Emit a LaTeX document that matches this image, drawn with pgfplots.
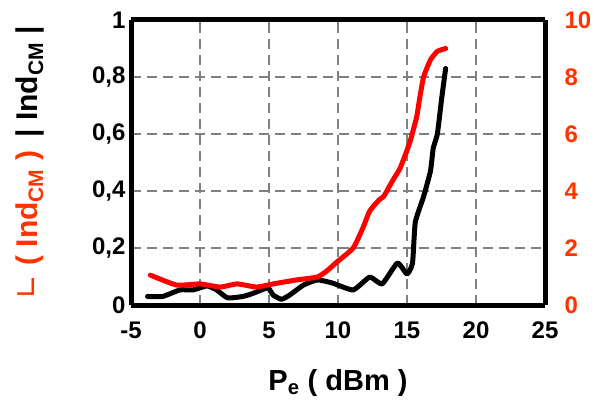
\documentclass[border=0pt]{standalone}
\usepackage{fontspec}
\setmainfont{Liberation Sans}
\newfontfamily\djv{DejaVu Sans}
\usepackage{pgfplots}
\pgfplotsset{compat=1.18}
\definecolor{labred}{RGB}{255,51,0}
\definecolor{gridgray}{RGB}{128,128,128}
\begin{document}
\begin{tikzpicture}
\useasboundingbox (0,0) rectangle (596pt,399pt);
\begin{axis}[
  at={(131pt,94pt)}, anchor=south west,
  scale only axis, width=414pt, height=285pt,
  xmin=-5, xmax=25, ymin=0, ymax=1,
  axis y line*=left,
  axis line style={line width=5pt, black},
  xtick={-5,0,...,25}, ytick={0,0.2,...,1},
  xmajorgrids, ymajorgrids,
  grid style={gridgray, line width=2.5pt, dash pattern=on 10pt off 6pt},
  tick style={gridgray, line width=2pt}, major tick length=5pt,
  /pgf/number format/assume math mode=true,
  /pgf/number format/use comma,
  every tick label/.append style={font=\fontsize{24}{27}\selectfont\bfseries},
  xticklabel style={yshift=-13pt},
  yticklabel style={xshift=-2pt},
  xlabel={P\textsubscript{e} ( dBm )},
  every axis x label/.style={at={(axis description cs:0.5,-0.275)}, anchor=center, font=\fontsize{29}{32}\selectfont\bfseries},
  ylabel={{\color{labred}{\djv\mdseries ∟} ( Ind\textsubscript{CM} )} \,| Ind\textsubscript{CM} |},
  every axis y label/.style={at={(axis description cs:-0.245,0.5)}, rotate=90, anchor=center, font=\fontsize{30}{32}\selectfont\bfseries},
]
\addplot[black, line width=5pt, line join=round, line cap=round, smooth, tension=0.3] coordinates {
(-3.8,0.03) (-2.7,0.03) (-1.45,0.053) (-0.5,0.053) (0.5,0.067) (1.2,0.053)
(2.0,0.025) (3.1,0.03) (3.8,0.04) (4.9,0.06) (5.3,0.035) (5.9,0.02) (6.5,0.035)
(7.5,0.07) (8.5,0.088) (9.6,0.077) (11.1,0.053) (12.3,0.098) (13.2,0.074)
(14.3,0.147) (15.0,0.109) (15.4,0.147) (15.6,0.29) (16.2,0.38) (16.7,0.47)
(16.9,0.55) (17.2,0.60) (17.5,0.72) (17.8,0.83)
};
\end{axis}
\begin{axis}[
  at={(131pt,94pt)}, anchor=south west,
  scale only axis, width=414pt, height=285pt,
  xmin=-5, xmax=25, ymin=0, ymax=10,
  axis y line*=right, axis x line=none,
  axis line style={line width=5pt, black},
  ytick={0,2,...,10}, major tick length=0pt,
  /pgf/number format/assume math mode=true,
  yticklabel style={font=\fontsize{24}{27}\selectfont\bfseries, text=labred, xshift=16pt},
]
\addplot[red, line width=5pt, line join=round, line cap=round, smooth, tension=0.3] coordinates {
(-3.6,1.05) (-1.7,0.70) (0,0.74) (1.45,0.63) (2.7,0.74) (4.1,0.63) (5.3,0.74)
(7.0,0.88) (8.5,0.98) (9.2,1.2) (9.9,1.5) (11.1,2.0) (11.8,2.7) (12.3,3.3)
(13.0,3.7) (13.3,3.8) (14.0,4.4) (14.5,4.8) (15.2,5.7) (15.7,6.6) (15.9,7.2)
(16.2,8.0) (16.7,8.6) (17.2,8.9) (17.8,9.0)
};
\end{axis}
\end{tikzpicture}
\end{document}
